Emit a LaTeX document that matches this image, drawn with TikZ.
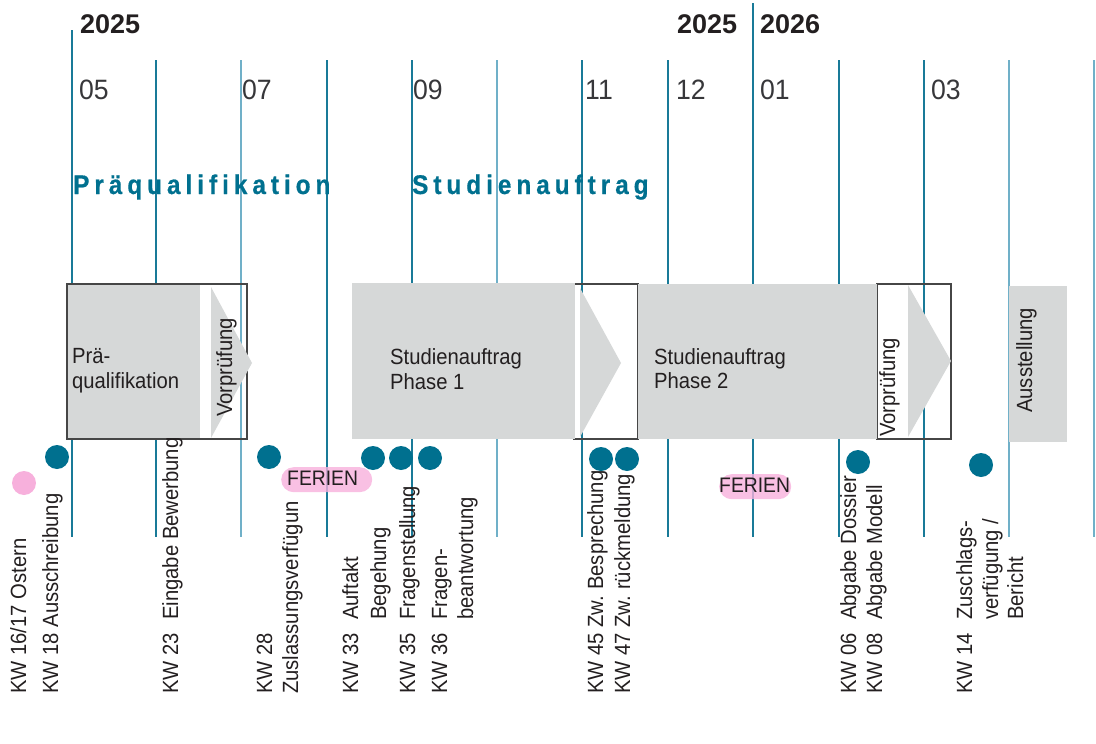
\documentclass[tikz,border=0pt]{standalone}
\usepackage{fontspec}
\setmainfont[FakeStretch=0.92]{Liberation Sans}
\newfontfamily\yearfont{Liberation Sans}
\newfontfamily\headfont[FakeStretch=0.9,LetterSpace=18.5,FakeBold=0.6]{Liberation Sans Bold}
\newfontfamily\monthfont[FakeStretch=0.95]{Liberation Sans}
\definecolor{lineC}{RGB}{25,122,152}
\definecolor{lineL}{RGB}{112,176,200}
\definecolor{dotC}{RGB}{0,112,143}
\definecolor{grayC}{RGB}{214,216,216}
\definecolor{pinkC}{RGB}{247,176,220}
\definecolor{txtC}{RGB}{35,31,32}
\definecolor{monC}{RGB}{55,55,58}
\definecolor{edgeC}{RGB}{70,70,70}
\begin{document}
\begin{tikzpicture}[x=1pt,y=-1pt,
 vline/.style={draw=lineC,line width=1.4pt},
 vlinel/.style={draw=lineL,line width=1.4pt},
 kdot/.style={circle,fill=dotC,minimum size=24pt,inner sep=0pt},
 pdot/.style={circle,fill=pinkC,minimum size=24pt,inner sep=0pt},
 pill/.style={fill=pinkC,fill opacity=0.8,rounded corners=12.5pt,inner sep=0pt,anchor=north west},
 gbox/.style={fill=grayC,inner sep=0pt,anchor=north west},
 boxframe/.style={draw=edgeC,line width=1.1pt},
 txt/.style={inner sep=0pt,anchor=base west,text=txtC,font=\fontsize{22}{25}\selectfont},
 rtxt/.style={txt,rotate=90},
 mtxt/.style={inner sep=0pt,anchor=base west,text=monC,font=\monthfont\fontsize{28}{30}\selectfont},
 yrtxt/.style={inner sep=0pt,anchor=base west,text=txtC,font=\yearfont\bfseries\fontsize{27}{30}\selectfont},
 hdtxt/.style={inner sep=0pt,anchor=base west,text=dotC,font=\headfont\fontsize{27}{30}\selectfont},
 fertxt/.style={inner sep=0pt,anchor=base west,text=txtC,font=\fontsize{21}{24}\selectfont}]
\useasboundingbox (0,0) rectangle (1096,744);
% grid lines
\draw[vline] (72,30) -- (72,537);
\foreach \x in {156,327,412,582,668,839,924} \draw[vline] (\x,60) -- (\x,537);
\foreach \x in {241,497,1009,1094} \draw[vlinel] (\x,60) -- (\x,537);
\draw[vline,line width=2.6pt] (753,3) -- (753,537);
% frames behind boxes
\draw[boxframe] (574,284) rectangle (638,439);
\draw[boxframe] (877,284) rectangle (951,439);
% gray boxes
\node (pq) [gbox,minimum width=133pt,minimum height=155pt] at (67,284) {};
\node (sa1) [gbox,minimum width=223pt,minimum height=156pt] at (352,283) {};
\node (sa2) [gbox,minimum width=239pt,minimum height=155pt] at (638,284) {};
\node (aus) [gbox,minimum width=58pt,minimum height=156pt] at (1009,286) {};
\draw[boxframe] (67,284) rectangle (247,439);
% arrows
\fill[grayC] (211,287) -- (252,363) -- (211,438) -- cycle;
\fill[grayC] (580,288) -- (621,363) -- (580,437) -- cycle;
\fill[grayC] (908,285) -- (951,361) -- (908,437) -- cycle;
% box texts
\node (t1) [txt] at (72,363) {Prä-};
\node (t2) [txt] at (72,388) {qualifikation};
\node (t3) [txt] at (390,364) {Studienauftrag};
\node (t4) [txt] at (390,389) {Phase 1};
\node (t5) [txt] at (654,364) {Studienauftrag};
\node (t6) [txt] at (654,388) {Phase 2};
\node (v1) [rtxt] at (232,417) {Vorprüfung};
\node (v2) [rtxt] at (895,437) {Vorprüfung};
\node (v3) [rtxt] at (1032,413) {Ausstellung};
% header
\node (y1) [yrtxt] at (80,34) {2025};
\node (y2) [yrtxt] at (677,34) {2025};
\node (y3) [yrtxt] at (760,34) {2026};
\node (m05) [mtxt] at (79,99) {05};
\node (m07) [mtxt] at (242,99) {07};
\node (m09) [mtxt] at (413,99) {09};
\node (m11) [mtxt] at (585,99) {11};
\node (m12) [mtxt] at (676,99) {12};
\node (m01) [mtxt] at (760,99) {01};
\node (m03) [mtxt] at (931,99) {03};
\node (h1) [hdtxt] at (73,194) {Präqualifikation};
\node (h2) [hdtxt] at (412,194) {Studienauftrag};
% pills
\node (f1) [pill,minimum width=91pt,minimum height=25pt] at (281,467) {};
\node (f2) [pill,minimum width=72pt,minimum height=25pt] at (719,474) {};
\node (f1t) [fertxt] at (287,485) {FERIEN};
\node (f2t) [fertxt] at (719,492) {FERIEN};
% dots
\node (d1) [pdot] at (24,483) {};
\node (d2) [kdot] at (57,457) {};
\node (d3) [kdot] at (269,457) {};
\node (d4) [kdot] at (373,458) {};
\node (d5) [kdot] at (401,458) {};
\node (d6) [kdot] at (430,458) {};
\node (d7) [kdot] at (601,459) {};
\node (d8) [kdot] at (627,459) {};
\node (d9) [kdot] at (858,462) {};
\node (d10) [kdot] at (981,465) {};
% rotated labels
\node (l1) [rtxt] at (26,694) {KW 16/17 Ostern};
\node (l2) [rtxt] at (58,694) {KW 18 Ausschreibung};
\node (l3) [rtxt] at (178,694) {\makebox[74pt][l]{KW 23}Eingabe Bewerbung};
\node (l4) [rtxt] at (272,694) {KW 28};
\node (l5) [rtxt] at (298,694) {Zuslassungsverfügun};
\node (l6) [rtxt] at (358,694) {\makebox[74pt][l]{KW 33}Auftakt};
\node (l7) [rtxt] at (386,620) {Begehung};
\node (l8) [rtxt] at (415,694) {\makebox[74pt][l]{KW 35}Fragenstellung};
\node (l9) [rtxt] at (447,694) {\makebox[74pt][l]{KW 36}Fragen-};
\node (l10) [rtxt] at (473,620) {beantwortung};
\node (l11) [rtxt] at (603,694) {\makebox[104pt][l]{KW 45 Zw.}Besprechung};
\node (l12) [rtxt] at (630,694) {\makebox[104pt][l]{KW 47 Zw.}rückmeldung};
\node (l13) [rtxt] at (856,694) {\makebox[74pt][l]{KW 06}Abgabe Dossier};
\node (l14) [rtxt] at (882,694) {\makebox[74pt][l]{KW 08}Abgabe Modell};
\node (l15) [rtxt] at (972,694) {\makebox[74pt][l]{KW 14}Zuschlags-};
\node (l16) [rtxt] at (998,620) {verfügung /};
\node (l17) [rtxt] at (1023,620) {Bericht};
\end{tikzpicture}
\end{document}
